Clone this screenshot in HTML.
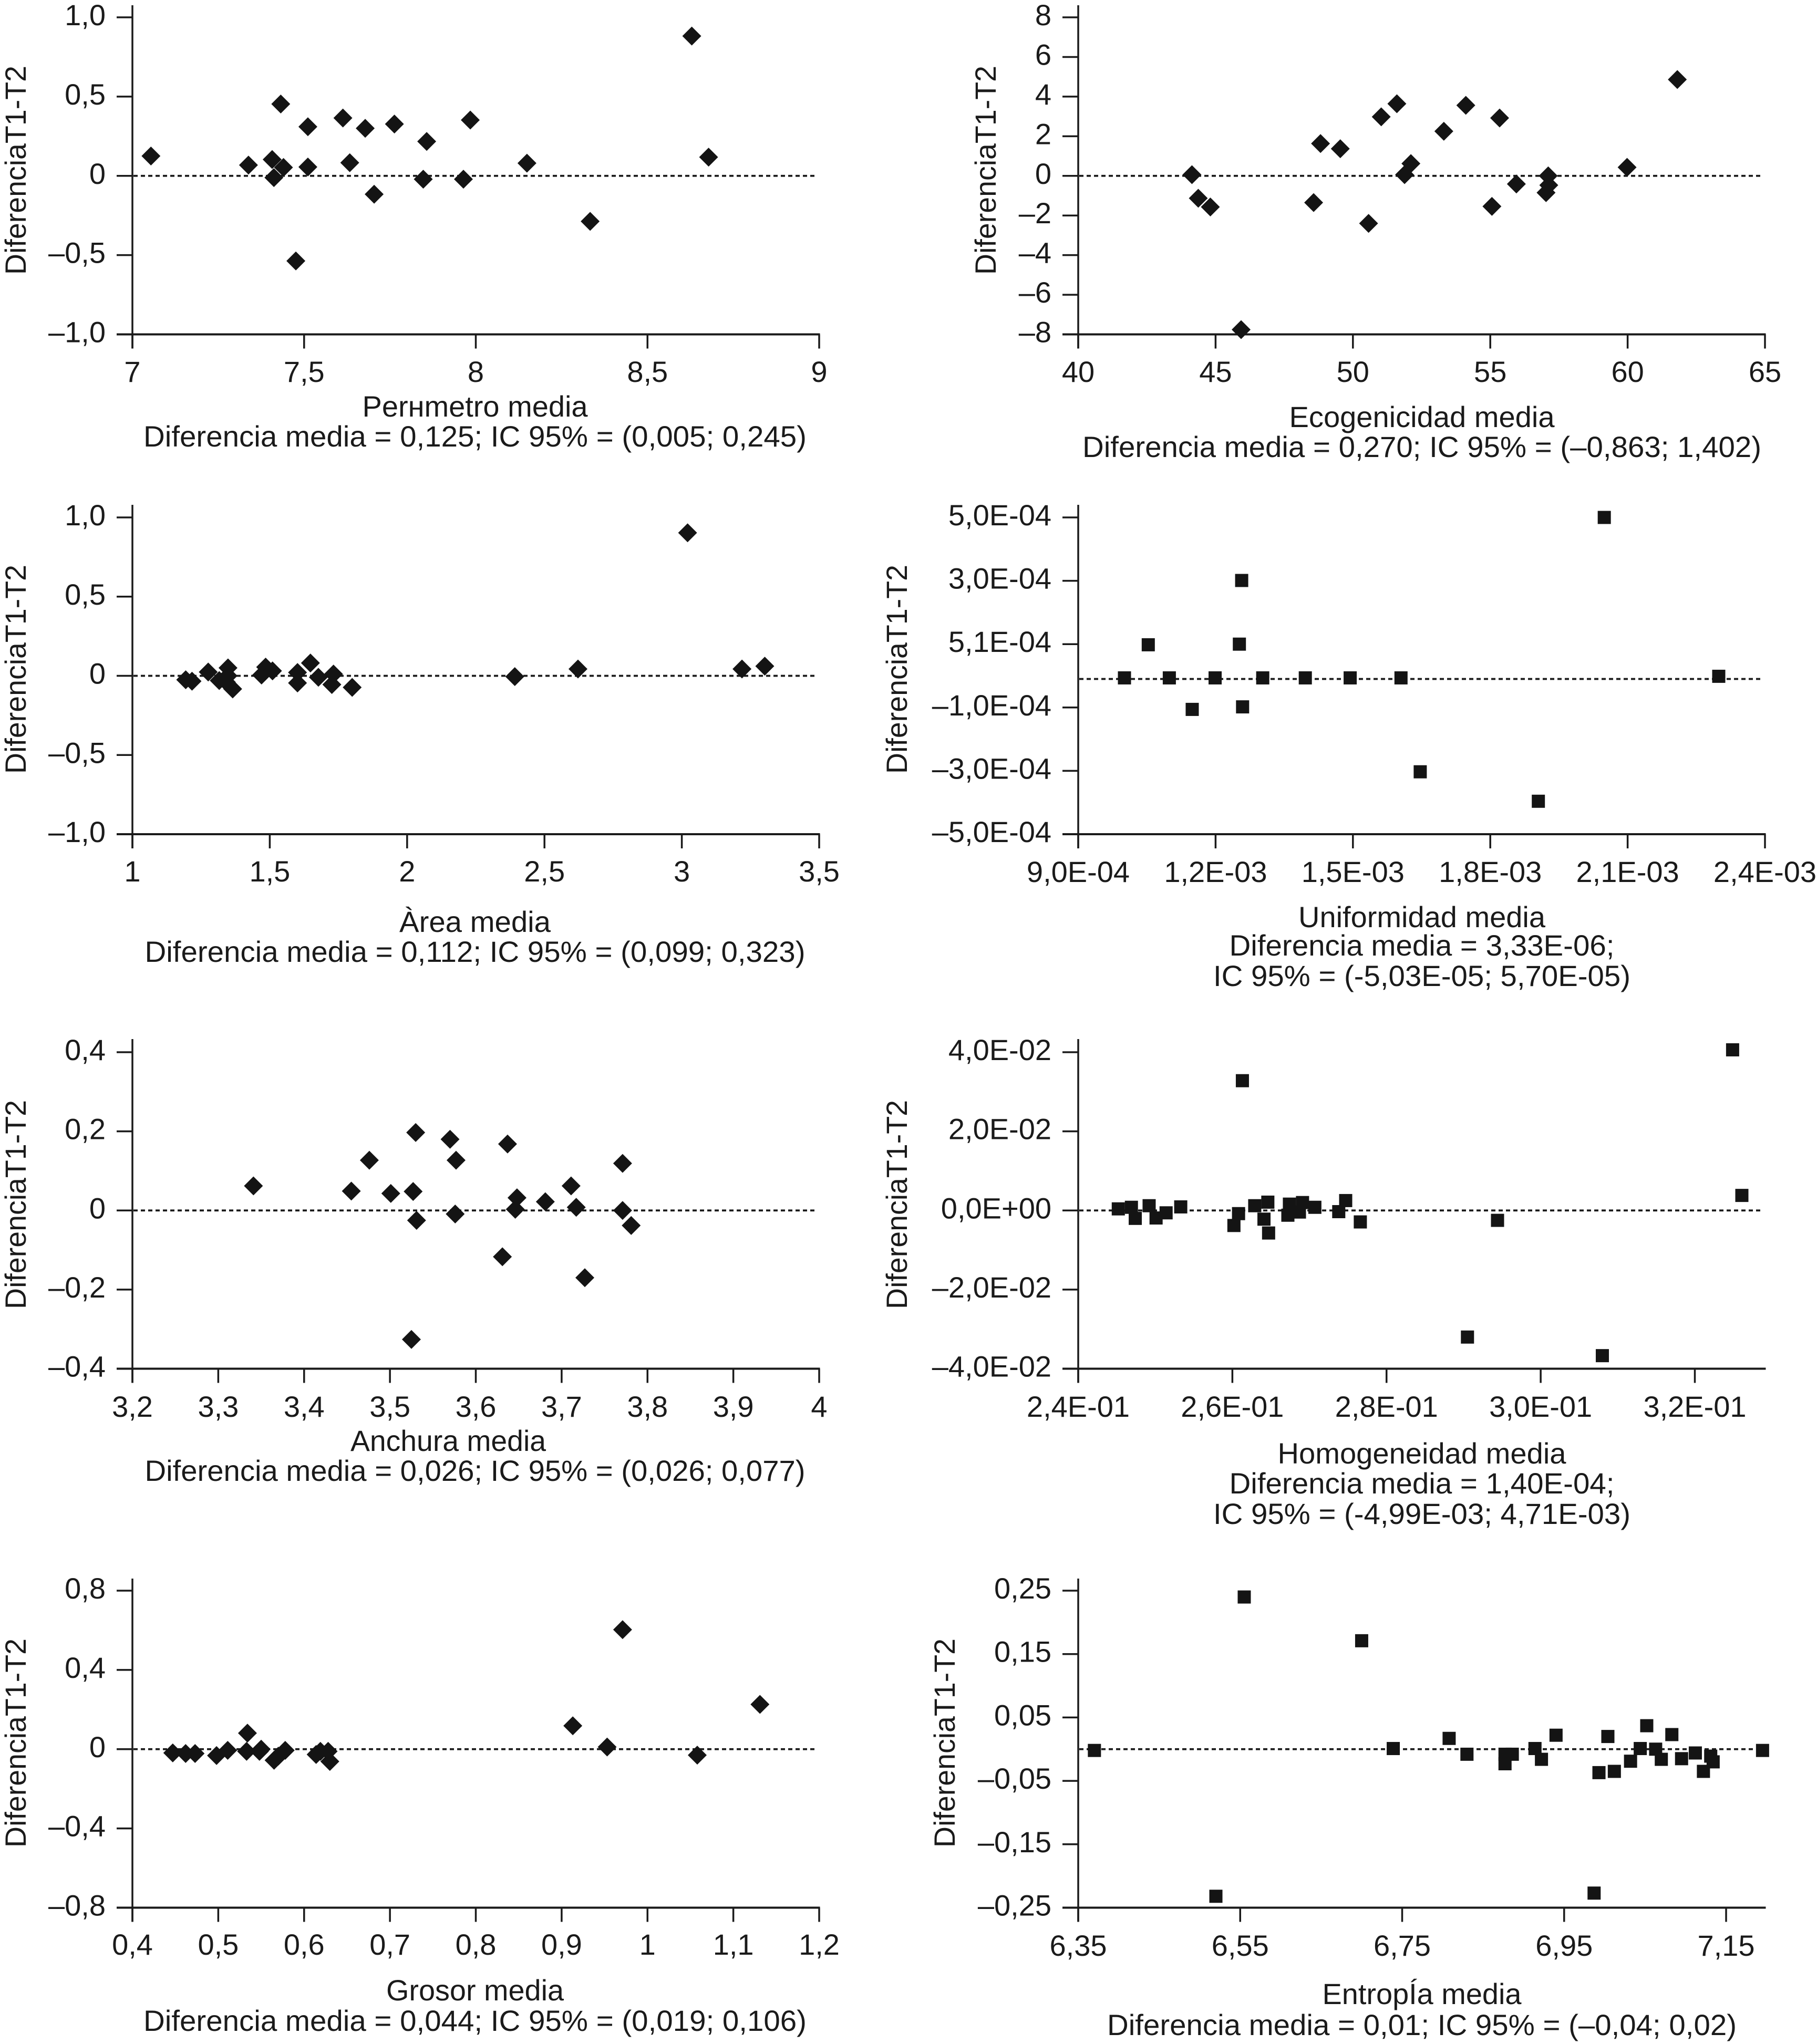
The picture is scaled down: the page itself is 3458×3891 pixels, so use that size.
<!DOCTYPE html>
<html lang="es">
<head>
<meta charset="utf-8">
<title>Diagramas de Bland-Altman</title>
<style>
  html, body { margin: 0; padding: 0; background: #fff; }
  svg { display: block; }
  text { font-family: "Liberation Sans", "Noto Sans CJK JP", sans-serif; fill: #1a1a1a; }
  .ytitle, .xtitle, .stat { font-size: 56px; }
  .tick-label { font-size: 56px; }
</style>
</head>
<body>
<svg id="figure" xmlns="http://www.w3.org/2000/svg" width="3458" height="3891" viewBox="0 0 3458 3891">
  <rect x="0" y="0" width="3458" height="3891" fill="#ffffff"/>

  <g id="p-perimetro">
    <text class="ytitle" transform="translate(49,324) rotate(-90)" text-anchor="middle" textLength="398" lengthAdjust="spacingAndGlyphs">DiferenciaT1-T2</text>
    <text class="xtitle" x="904" y="793" text-anchor="middle" textLength="429" lengthAdjust="spacingAndGlyphs">Perнmetro media</text>
    <text class="stat" x="904" y="850" text-anchor="middle" textLength="1262" lengthAdjust="spacingAndGlyphs">Diferencia media = 0,125; IC 95% = (0,005; 0,245)</text>
  </g>

  <g id="p-ecogenicidad">
    <text class="ytitle" transform="translate(1895,324) rotate(-90)" text-anchor="middle" textLength="398" lengthAdjust="spacingAndGlyphs">DiferenciaT1-T2</text>
    <text class="xtitle" x="2706" y="813" text-anchor="middle" textLength="505" lengthAdjust="spacingAndGlyphs">Ecogenicidad media</text>
    <text class="stat" x="2706" y="870" text-anchor="middle" textLength="1292" lengthAdjust="spacingAndGlyphs">Diferencia media = 0,270; IC 95% = (–0,863; 1,402)</text>
  </g>

  <g id="p-area">
    <text class="ytitle" transform="translate(49,1274) rotate(-90)" text-anchor="middle" textLength="398" lengthAdjust="spacingAndGlyphs">DiferenciaT1-T2</text>
    <text class="xtitle" x="904" y="1774" text-anchor="middle" textLength="288" lengthAdjust="spacingAndGlyphs">Àrea media</text>
    <text class="stat" x="904" y="1831" text-anchor="middle" textLength="1257" lengthAdjust="spacingAndGlyphs">Diferencia media = 0,112; IC 95% = (0,099; 0,323)</text>
  </g>

  <g id="p-uniformidad">
    <text class="ytitle" transform="translate(1726,1274) rotate(-90)" text-anchor="middle" textLength="398" lengthAdjust="spacingAndGlyphs">DiferenciaT1-T2</text>
    <text class="xtitle" x="2706" y="1765" text-anchor="middle" textLength="470" lengthAdjust="spacingAndGlyphs">Uniformidad media</text>
    <text class="stat" x="2706" y="1819" text-anchor="middle" textLength="733" lengthAdjust="spacingAndGlyphs">Diferencia media = 3,33E-06;</text>
    <text class="stat" x="2706" y="1877" text-anchor="middle" textLength="794" lengthAdjust="spacingAndGlyphs">IC 95% = (-5,03E-05; 5,70E-05)</text>
  </g>

  <g id="p-anchura">
    <text class="ytitle" transform="translate(49,2293) rotate(-90)" text-anchor="middle" textLength="398" lengthAdjust="spacingAndGlyphs">DiferenciaT1-T2</text>
    <text class="xtitle" x="853" y="2762" text-anchor="middle" textLength="372" lengthAdjust="spacingAndGlyphs">Anchura media</text>
    <text class="stat" x="904" y="2819" text-anchor="middle" textLength="1257" lengthAdjust="spacingAndGlyphs">Diferencia media = 0,026; IC 95% = (0,026; 0,077)</text>
  </g>

  <g id="p-homogeneidad">
    <text class="ytitle" transform="translate(1726,2293) rotate(-90)" text-anchor="middle" textLength="398" lengthAdjust="spacingAndGlyphs">DiferenciaT1-T2</text>
    <text class="xtitle" x="2706" y="2786" text-anchor="middle" textLength="549" lengthAdjust="spacingAndGlyphs">Homogeneidad media</text>
    <text class="stat" x="2706" y="2843" text-anchor="middle" textLength="733" lengthAdjust="spacingAndGlyphs">Diferencia media = 1,40E-04;</text>
    <text class="stat" x="2706" y="2901" text-anchor="middle" textLength="794" lengthAdjust="spacingAndGlyphs">IC 95% = (-4,99E-03; 4,71E-03)</text>
  </g>

  <g id="p-grosor">
    <text class="ytitle" transform="translate(49,3318) rotate(-90)" text-anchor="middle" textLength="398" lengthAdjust="spacingAndGlyphs">DiferenciaT1-T2</text>
    <text class="xtitle" x="904" y="3808" text-anchor="middle" textLength="338" lengthAdjust="spacingAndGlyphs">Grosor media</text>
    <text class="stat" x="904" y="3866" text-anchor="middle" textLength="1262" lengthAdjust="spacingAndGlyphs">Diferencia media = 0,044; IC 95% = (0,019; 0,106)</text>
  </g>

  <g id="p-entropia">
    <text class="ytitle" transform="translate(1817,3318) rotate(-90)" text-anchor="middle" textLength="398" lengthAdjust="spacingAndGlyphs">DiferenciaT1-T2</text>
    <text class="xtitle" x="2706" y="3815" text-anchor="middle" textLength="379" lengthAdjust="spacingAndGlyphs">EntropÍa media</text>
    <text class="stat" x="2706" y="3874" text-anchor="middle" textLength="1198" lengthAdjust="spacingAndGlyphs">Diferencia media = 0,01; IC 95% = (–0,04; 0,02)</text>
  </g>
</svg>

<script>
// ---- Perímetro ----
const perimetroX = [7.054,7.338,7.407,7.412,7.432,7.44,7.476,7.511,7.511,7.613,7.633,7.678,7.704,7.763,7.847,7.857,7.964,7.984,8.149,8.333,8.629,8.678];
const perimetroY = [0.125,0.068,0.103,-0.011,0.453,0.053,-0.537,0.31,0.056,0.365,0.083,0.30,-0.116,0.327,-0.021,0.217,-0.021,0.352,0.08,-0.287,0.882,0.118];
const perimetroXTicks = [7,7.5,8,8.5,9];
const perimetroXLabels = ['7','7,5','8','8,5','9'];
const perimetroYTicks = [1,0.5,0,-0.5,-1];
const perimetroYLabels = ['1,0','0,5','0','–0,5','–1,0'];

// ---- Ecogenicidad ----
const ecoX = [44.14,44.37,44.81,45.93,48.57,48.82,49.54,50.57,51.03,51.6,51.88,52.11,53.31,54.11,55.06,55.34,55.95,57.03,57.11,57.13,59.98,61.81];
const ecoY = [0.06,-1.13,-1.57,-7.76,-1.35,1.63,1.37,-2.4,2.98,3.64,0.06,0.62,2.25,3.56,-1.54,2.92,-0.41,-0.85,0,-0.47,0.43,4.86];
const ecoXTicks = [40,45,50,55,60,65];
const ecoXLabels = ['40','45','50','55','60','65'];
const ecoYTicks = [8,6,4,2,0,-2,-4,-6,-8];
const ecoYLabels = ['8','6','4','2','0','–2','–4','–6','–8'];

// ---- Área ----
const areaX = [1.194,1.217,1.276,1.316,1.348,1.348,1.342,1.365,1.47,1.485,1.51,1.601,1.601,1.648,1.677,1.732,1.726,1.80,2.392,2.622,3.021,3.219,3.302];
const areaY = [-0.025,-0.034,0.024,-0.03,0.05,0,-0.04,-0.083,0.005,0.055,0.031,0.021,-0.045,0.081,-0.009,0.011,-0.055,-0.073,-0.005,0.043,0.903,0.043,0.061];
const areaXTicks = [1,1.5,2,2.5,3,3.5];
const areaXLabels = ['1','1,5','2','2,5','3','3,5'];
const areaYTicks = [1,0.5,0,-0.5,-1];
const areaYLabels = ['1,0','0,5','0','–0,5','–1,0'];

// ---- Uniformidad ----
const uniX = [1.001e-3,1.053e-3,1.099e-3,1.149e-3,1.199e-3,1.252e-3,1.257e-3,1.259e-3,1.303e-3,1.396e-3,1.494e-3,1.605e-3,1.647e-3,1.905e-3,2.049e-3,2.299e-3];
const uniY = [-6.5e-6,0.98e-4,-6.5e-6,-1.06e-4,-6.5e-6,1.0e-4,3.01e-4,-0.98e-4,-6.5e-6,-6.5e-6,-6.5e-6,-6.5e-6,-3.03e-4,-3.96e-4,5.0e-4,-1.5e-6];
const uniXTicks = [9e-4,1.2e-3,1.5e-3,1.8e-3,2.1e-3,2.4e-3];
const uniXLabels = ['9,0E-04','1,2E-03','1,5E-03','1,8E-03','2,1E-03','2,4E-03'];
const uniYTicks = [5e-4,3e-4,1e-4,-1e-4,-3e-4,-5e-4];
const uniYLabels = ['5,0E-04','3,0E-04','5,1E-04','–1,0E-04','–3,0E-04','–5,0E-04'];

// ---- Anchura ----
const anchuraX = [3.341,3.455,3.476,3.501,3.527,3.53,3.531,3.525,3.57,3.577,3.576,3.631,3.637,3.648,3.646,3.681,3.711,3.717,3.727,3.771,3.771,3.781];
const anchuraY = [0.062,0.049,0.127,0.043,0.048,0.197,-0.025,-0.326,0.18,0.127,-0.009,-0.117,0.168,0.032,0.003,0.022,0.062,0.008,-0.17,0.119,0,-0.038];
const anchuraXTicks = [3.2,3.3,3.4,3.5,3.6,3.7,3.8,3.9,4];
const anchuraXLabels = ['3,2','3,3','3,4','3,5','3,6','3,7','3,8','3,9','4'];
const anchuraYTicks = [0.4,0.2,0,-0.2,-0.4];
const anchuraYLabels = ['0,4','0,2','0','–0,2','–0,4'];

// ---- Homogeneidad ----
const homoX = [0.2452,0.2469,0.2474,0.2492,0.2501,0.2514,0.2533,0.2602,0.2608,0.2613,0.2629,0.2646,0.2641,0.2647,0.2672,0.2674,0.2687,0.2691,0.2707,0.2738,0.2747,0.2766,0.2905,0.2944,0.3080,0.3249,0.3261];
const homoY = [0.0004,0.0008,-0.0020,0.0012,-0.0019,-0.0006,0.0009,-0.0038,-0.0008,0.0328,0.0012,0.0021,-0.0022,-0.0057,-0.0012,0.0016,-0.0004,0.002,0.0008,-0.0003,0.0025,-0.0029,-0.032,-0.0025,-0.0367,0.0406,0.0038];
const homoXTicks = [0.24,0.26,0.28,0.30,0.32];
const homoXLabels = ['2,4E-01','2,6E-01','2,8E-01','3,0E-01','3,2E-01'];
const homoYTicks = [0.04,0.02,0,-0.02,-0.04];
const homoYLabels = ['4,0E-02','2,0E-02','0,0E+00','–2,0E-02','–4,0E-02'];

// ---- Grosor ----
const grosorX = [0.447,0.462,0.473,0.498,0.511,0.533,0.534,0.55,0.548,0.565,0.570,0.578,0.614,0.619,0.628,0.630,0.913,0.953,0.971,1.058,1.131];
const grosorY = [-0.019,-0.022,-0.022,-0.032,-0.006,-0.011,0.081,0,-0.011,-0.056,-0.035,-0.006,-0.027,-0.011,-0.011,-0.062,0.118,0.011,0.603,-0.03,0.226];
const grosorXTicks = [0.4,0.5,0.6,0.7,0.8,0.9,1,1.1,1.2];
const grosorXLabels = ['0,4','0,5','0,6','0,7','0,8','0,9','1','1,1','1,2'];
const grosorYTicks = [0.8,0.4,0,-0.4,-0.8];
const grosorYLabels = ['0,8','0,4','0','–0,4','–0,8'];

// ---- Entropía ----
const entroX = [6.370,6.520,6.555,6.700,6.739,6.808,6.830,6.877,6.877,6.886,6.914,6.922,6.940,6.987,6.993,7.004,7.012,7.032,7.044,7.052,7.063,7.070,7.083,7.095,7.112,7.122,7.131,7.134,7.195];
const entroY = [-0.002,-0.232,0.24,0.171,0.001,0.017,-0.008,-0.023,-0.008,-0.008,0.001,-0.016,0.022,-0.227,-0.037,0.02,-0.035,-0.019,0.001,0.037,0,-0.016,0.023,-0.015,-0.006,-0.035,-0.011,-0.02,-0.002];
const entroXTicks = [6.35,6.55,6.75,6.95,7.15];
const entroXLabels = ['6,35','6,55','6,75','6,95','7,15'];
const entroYTicks = [0.25,0.15,0.05,-0.05,-0.15,-0.25];
const entroYLabels = ['0,25','0,15','0,05','–0,05','–0,15','–0,25'];

// Reference line level of each panel (the uniformity line sits just under zero)
const uniRef = -1e-5;
const zeroRef = 0;

const NS = 'http://www.w3.org/2000/svg';
const INK = '#1a1a1a';

function drawPanel(cfg) {
  const g = document.getElementById(cfg.id);
  const xs = v => cfg.left + (v - cfg.xMin) / (cfg.xMax - cfg.xMin) * (cfg.right - cfg.left);
  const ys = v => cfg.yBottom - (v - cfg.yMin) / (cfg.yMax - cfg.yMin) * (cfg.yBottom - cfg.yTopTick);

  const yAxis = document.createElementNS(NS, 'line');
  
  
  yAxis.setAttribute('x1', cfg.left); yAxis.setAttribute('x2', cfg.left);
  yAxis.setAttribute('y1', cfg.axisTop); yAxis.setAttribute('y2', cfg.yBottom + 27);
  yAxis.setAttribute('stroke', INK); yAxis.setAttribute('stroke-width', 3.5);
  g.appendChild(yAxis);

  const xAxis = document.createElementNS(NS, 'line');
  
  
  xAxis.setAttribute('x1', cfg.left - 30); xAxis.setAttribute('x2', cfg.right + 1.5);
  xAxis.setAttribute('y1', cfg.yBottom); xAxis.setAttribute('y2', cfg.yBottom);
  xAxis.setAttribute('stroke', INK); xAxis.setAttribute('stroke-width', 4);
  g.appendChild(xAxis);

  cfg.yTicks.forEach((v, i) => {
    const t = document.createElementNS(NS, 'line');
    
    
    t.setAttribute('x1', cfg.left - 30); t.setAttribute('x2', cfg.left);
    t.setAttribute('y1', ys(v)); t.setAttribute('y2', ys(v));
    t.setAttribute('stroke', INK); t.setAttribute('stroke-width', 3.5);
    g.appendChild(t);
    const l = document.createElementNS(NS, 'text');
    
    
    l.setAttribute('class', 'tick-label');
    l.setAttribute('x', cfg.left - 51);
    l.setAttribute('y', ys(v) + 15);
    l.setAttribute('text-anchor', 'end');
    l.textContent = cfg.yLabels[i];
    g.appendChild(l);
  });

  cfg.xTicks.forEach((v, i) => {
    const t = document.createElementNS(NS, 'line');
    
    
    t.setAttribute('x1', xs(v)); t.setAttribute('x2', xs(v));
    t.setAttribute('y1', cfg.yBottom); t.setAttribute('y2', cfg.yBottom + 27);
    t.setAttribute('stroke', INK); t.setAttribute('stroke-width', 3.5);
    g.appendChild(t);
    const l = document.createElementNS(NS, 'text');
    
    
    l.setAttribute('class', 'tick-label');
    l.setAttribute('x', xs(v));
    l.setAttribute('y', cfg.xLabelBase);
    l.setAttribute('text-anchor', 'middle');
    l.textContent = cfg.xLabels[i];
    g.appendChild(l);
  });

  const ref = document.createElementNS(NS, 'line');
  
  
  ref.setAttribute('x1', cfg.left + 2); ref.setAttribute('x2', cfg.right - 6);
  ref.setAttribute('y1', ys(cfg.ref)); ref.setAttribute('y2', ys(cfg.ref));
  ref.setAttribute('stroke', INK); ref.setAttribute('stroke-width', 3.7);
  ref.setAttribute('stroke-dasharray', '8 6');
  g.appendChild(ref);

  cfg.xData.forEach((xv, i) => {
    const cx = xs(xv), cy = ys(cfg.yData[i]);
    if (cfg.marker === 'diamond') {
      const d = document.createElementNS(NS, 'polygon');
      
      
      d.setAttribute('points', [[cx, cy - 18], [cx + 18, cy], [cx, cy + 18], [cx - 18, cy]].join(' '));
      d.setAttribute('fill', '#141414');
      g.appendChild(d);
    } else {
      const s = document.createElementNS(NS, 'rect');
      
      
      s.setAttribute('x', cx - 12.5); s.setAttribute('y', cy - 12.5);
      s.setAttribute('width', 25); s.setAttribute('height', 25);
      s.setAttribute('fill', '#141414');
      g.appendChild(s);
    }
  });
}

const LEFT = { left: 252, right: 1559 };
const RIGHT = { left: 2052, right: 3359 };

drawPanel({ id: 'p-perimetro', ...LEFT, axisTop: 10, yTopTick: 33, yBottom: 636.5, xLabelBase: 727, xMin: 7, xMax: 9, yMin: -1, yMax: 1, ref: zeroRef, marker: 'diamond', xData: perimetroX, yData: perimetroY, xTicks: perimetroXTicks, xLabels: perimetroXLabels, yTicks: perimetroYTicks, yLabels: perimetroYLabels });
drawPanel({ id: 'p-ecogenicidad', ...RIGHT, axisTop: 10, yTopTick: 33, yBottom: 636.5, xLabelBase: 727, xMin: 40, xMax: 65, yMin: -8, yMax: 8, ref: zeroRef, marker: 'diamond', xData: ecoX, yData: ecoY, xTicks: ecoXTicks, xLabels: ecoXLabels, yTicks: ecoYTicks, yLabels: ecoYLabels });
drawPanel({ id: 'p-area', ...LEFT, axisTop: 961, yTopTick: 985, yBottom: 1588, xLabelBase: 1678, xMin: 1, xMax: 3.5, yMin: -1, yMax: 1, ref: zeroRef, marker: 'diamond', xData: areaX, yData: areaY, xTicks: areaXTicks, xLabels: areaXLabels, yTicks: areaYTicks, yLabels: areaYLabels });
drawPanel({ id: 'p-uniformidad', ...RIGHT, axisTop: 961, yTopTick: 985, yBottom: 1588, xLabelBase: 1679, xMin: 9e-4, xMax: 2.4e-3, yMin: -5e-4, yMax: 5e-4, ref: uniRef, marker: 'square', xData: uniX, yData: uniY, xTicks: uniXTicks, xLabels: uniXLabels, yTicks: uniYTicks, yLabels: uniYLabels });
drawPanel({ id: 'p-anchura', ...LEFT, axisTop: 1978, yTopTick: 2003, yBottom: 2605.5, xLabelBase: 2697, xMin: 3.2, xMax: 4, yMin: -0.4, yMax: 0.4, ref: zeroRef, marker: 'diamond', xData: anchuraX, yData: anchuraY, xTicks: anchuraXTicks, xLabels: anchuraXLabels, yTicks: anchuraYTicks, yLabels: anchuraYLabels });
drawPanel({ id: 'p-homogeneidad', ...RIGHT, axisTop: 1978, yTopTick: 2003, yBottom: 2605.5, xLabelBase: 2697, xMin: 0.24, xMax: 0.3291, yMin: -0.04, yMax: 0.04, ref: zeroRef, marker: 'square', xData: homoX, yData: homoY, xTicks: homoXTicks, xLabels: homoXLabels, yTicks: homoYTicks, yLabels: homoYLabels });
drawPanel({ id: 'p-grosor', ...LEFT, axisTop: 3005, yTopTick: 3028, yBottom: 3631.5, xLabelBase: 3721, xMin: 0.4, xMax: 1.2, yMin: -0.8, yMax: 0.8, ref: zeroRef, marker: 'diamond', xData: grosorX, yData: grosorY, xTicks: grosorXTicks, xLabels: grosorXLabels, yTicks: grosorYTicks, yLabels: grosorYLabels });
drawPanel({ id: 'p-entropia', ...RIGHT, axisTop: 3005, yTopTick: 3028, yBottom: 3631.5, xLabelBase: 3723, xMin: 6.35, xMax: 7.198, yMin: -0.25, yMax: 0.25, ref: zeroRef, marker: 'square', xData: entroX, yData: entroY, xTicks: entroXTicks, xLabels: entroXLabels, yTicks: entroYTicks, yLabels: entroYLabels });
</script>
</body>
</html>
